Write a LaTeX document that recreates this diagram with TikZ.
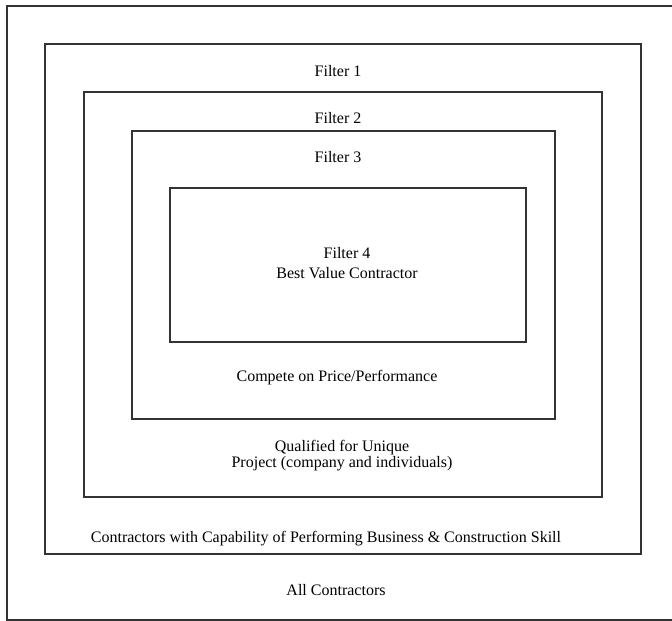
\documentclass[tikz,border=0pt]{standalone}
\usepackage{fontspec}
\setmainfont{Liberation Serif}
\usepackage{tikz}
\usetikzlibrary{positioning}
\tikzstyle{layer} = [rectangle, draw=black!80, line width=1.3pt, 
    inner sep=0pt]
\tikzstyle{caption} = [text centered, align=center, inner sep=0pt, 
    font=\fontsize{16}{20}\selectfont]

\begin{document}
\begin{tikzpicture}[x=1pt, y=-1pt]
    \clip (0,0) rectangle (672,621);
    % Place nodes
    \node [layer, minimum width=673pt, minimum height=614pt] (all) at (343.5,313) {};
    \node [layer, minimum width=596pt, minimum height=510pt] (filter1) at (343,299) {};
    \node [layer, minimum width=518pt, minimum height=405pt] (filter2) at (343,294.5) {};
    \node [layer, minimum width=423pt, minimum height=288pt] (filter3) at (343.5,275) {};
    \node [layer, minimum width=356pt, minimum height=154pt] (filter4) at (348,265) {};

    % Place texts
    \node [caption] (name1) at (338,71) {Filter 1};
    \node [caption] (name2) at (338,118) {Filter 2};
    \node [caption] (name3) at (338,157) {Filter 3};
    \node [caption] (name4) at (347,263) {Filter 4\\Best Value Contractor};
    \node [caption] (compete) at (337,378) {Compete on Price/Performance};
    \node [caption, font=\fontsize{16}{16}\selectfont] (qualified) at (342,456) 
    {Qualified for Unique\\Project (company and individuals)};
    \node [caption] (capable) at (326,539) {Contractors with Capability of Performing Business \& Construction Skill};
    \node [caption] (allname) at (336,590) {All Contractors};
\end{tikzpicture}
\end{document}
